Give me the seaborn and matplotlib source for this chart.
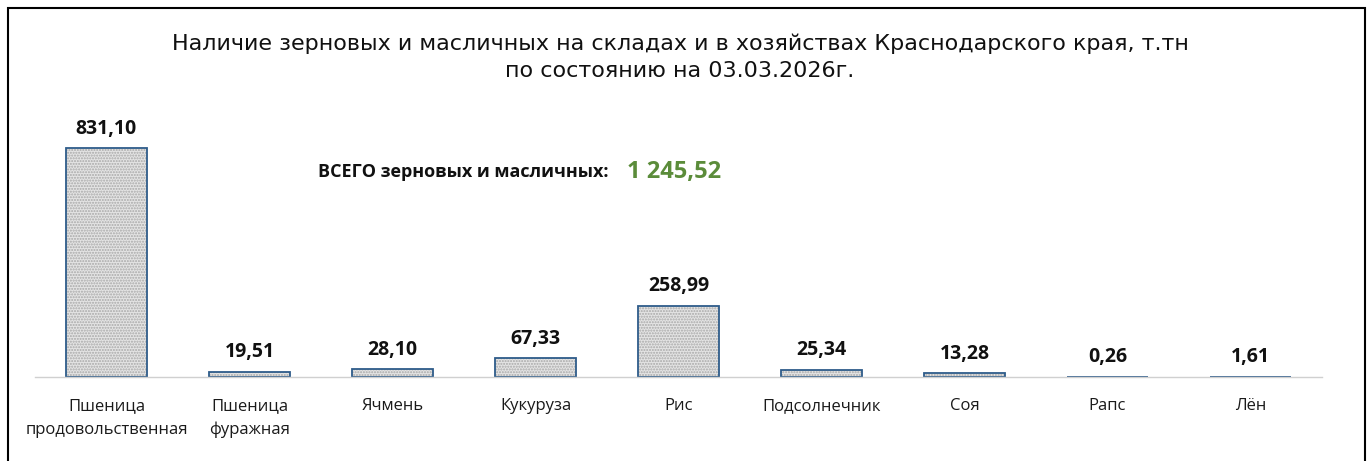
import matplotlib
matplotlib.use('Agg')
import matplotlib.pyplot as plt
import matplotlib.patches as mpatches
import seaborn as sns
import pandas as pd

# Данные
categories = ['Пшеница\nпродовольственная', 'Пшеница\nфуражная', 'Ячмень', 'Кукуруза',
              'Рис', 'Подсолнечник', 'Соя', 'Рапс', 'Лён']
values = [831.10, 19.51, 28.10, 67.33, 258.99, 25.34, 13.28, 0.26, 1.61]
total_label = 'ВСЕГО зерновых и масличных:'
total_value = '1 245,52'
title = ('Наличие зерновых и масличных на складах и в хозяйствах Краснодарского края, т.тн\n'
         'по состоянию на 03.03.2026г.')

df = pd.DataFrame({'cat': categories, 'val': values})

sns.set_style('white')
plt.rcParams['font.family'] = ['Open Sans', 'DejaVu Sans']

fig = plt.figure(figsize=(13.72, 4.61), dpi=100)
ax = fig.add_axes([35 / 1372, 84 / 461, 1287 / 1372, 275 / 461])

# заливка точками
sns.barplot(data=df, x='cat', y='val', ax=ax, width=0.56, color='#e4e4e4',
            edgecolor='#a8a8a8', linewidth=0, hatch='......')
# контур
sns.barplot(data=df, x='cat', y='val', ax=ax, width=0.56, fill=False,
            edgecolor='#2e5c8a', linewidth=1.3)

ax.set_ylim(0, 1000)
ax.set_xlim(-0.5, len(categories) - 0.5)
ax.set_xlabel('')
ax.set_ylabel('')
ax.set_yticks([])
ax.tick_params(axis='x', length=0, pad=15, labelsize=12, colors='#1a1a1a')
for lbl in ax.get_xticklabels():
    lbl.set_linespacing(1.65)
for s in ['top', 'left', 'right']:
    ax.spines[s].set_visible(False)
ax.spines['bottom'].set_color('#d0d0d0')
ax.spines['bottom'].set_linewidth(1)

for i, v in enumerate(values):
    ax.annotate(f'{v:.2f}'.replace('.', ','), (i, v), xytext=(0, 7),
                textcoords='offset points', ha='center', va='bottom',
                fontsize=14, fontweight='bold', color='#111111')

fig.text(608 / 1372, 1 - 172 / 461, total_label, ha='right', va='center',
         fontsize=13, fontweight='bold', color='#111111')
fig.text(627 / 1372, 1 - 172 / 461, total_value, ha='left', va='center',
         fontsize=17, fontweight='bold', color='#5b8c3a')

fig.text(680 / 1372, 1 - 57 / 461, title, ha='center', va='center',
         fontsize=16, color='#111111', linespacing=1.42,
         family=['DejaVu Sans'])

# рамка
fig.patches.append(mpatches.Rectangle((8 / 1372, -0.1), 1357 / 1372, 1.1 - 8 / 461,
                                      transform=fig.transFigure, fill=False,
                                      edgecolor='black', linewidth=1.5))

fig.savefig('out.png', dpi=100, facecolor='white')
